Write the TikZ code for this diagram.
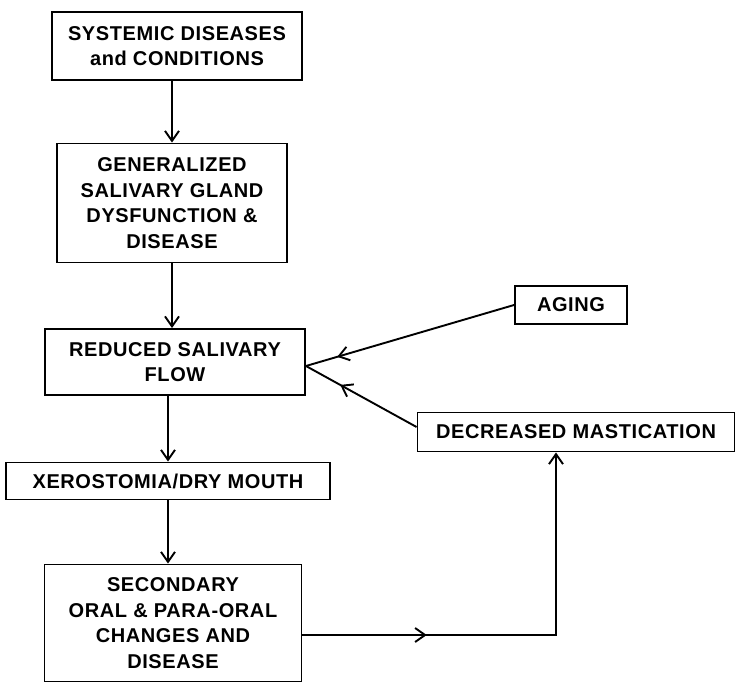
\documentclass[tikz,border=0pt]{standalone}
\usepackage{fontspec}
\setmainfont[LetterSpace=3]{Liberation Sans}
\usetikzlibrary{arrows.meta, positioning, decorations.markings}

\begin{document}
\begin{tikzpicture}[x=1pt, y=-1pt,
    box/.style={draw, line width=1.9pt, align=center, inner sep=0pt,
        font=\fontsize{20}{25.5}\selectfont\bfseries},
    arr/.style={-{Straight Barb[length=10pt, width=14pt]}, line width=1.9pt},
    midarr/.style={line width=1.9pt, postaction={decorate},
        decoration={markings, mark=at position #1 with {\arrow{Straight Barb[length=10pt, width=14pt]}}}},
]
\useasboundingbox (0,0) rectangle (736,684);

% Main chain
\node[box, minimum width=250pt, minimum height=68pt] (sys) at (177,46) {SYSTEMIC DISEASES\\and CONDITIONS};
\node[box, minimum width=230pt, minimum height=119pt] (gen) at (172,203) {GENERALIZED\\SALIVARY GLAND\\DYSFUNCTION \&\\DISEASE};
\node[box, minimum width=260pt, minimum height=66pt] (red) at (175,362) {REDUCED SALIVARY\\FLOW};
\node[box, minimum width=324pt, minimum height=37pt] (xer) at (168,481) {XEROSTOMIA/DRY MOUTH};
\node[box, minimum width=257pt, minimum height=117pt] (sec) at (173,623) {SECONDARY\\ORAL \& PARA-ORAL\\CHANGES AND\\DISEASE};

% Side factors
\node[box, minimum width=112pt, minimum height=38pt] (aging) at (571,305) {AGING};
\node[box, minimum width=317pt, minimum height=39pt] (mast) at (576,432) {DECREASED MASTICATION};

% Downward arrows
\draw[arr] (sys.south -| gen.north) -- (gen.north);
\draw[arr] (gen.south) -- (gen.south |- red.north);
\draw[arr] (xer.north |- red.south) -- (xer.north);
\draw[arr] (xer.south) -- (xer.south |- sec.north);

% Feedback into reduced flow
\coordinate (meet) at ([yshift=-4pt]red.east);
\draw[midarr=0.85] (aging.west) -- (meet);
\draw[midarr=0.69] ([yshift=5pt]mast.west) -- (meet);

% Loop back to mastication
\coordinate (out) at ([yshift=-12pt]sec.east);
\coordinate (in) at ([xshift=-20pt]mast.south);
\draw[arr, midarr=0.285] (out) -- (out -| in) -- (in);

\end{tikzpicture}
\end{document}
